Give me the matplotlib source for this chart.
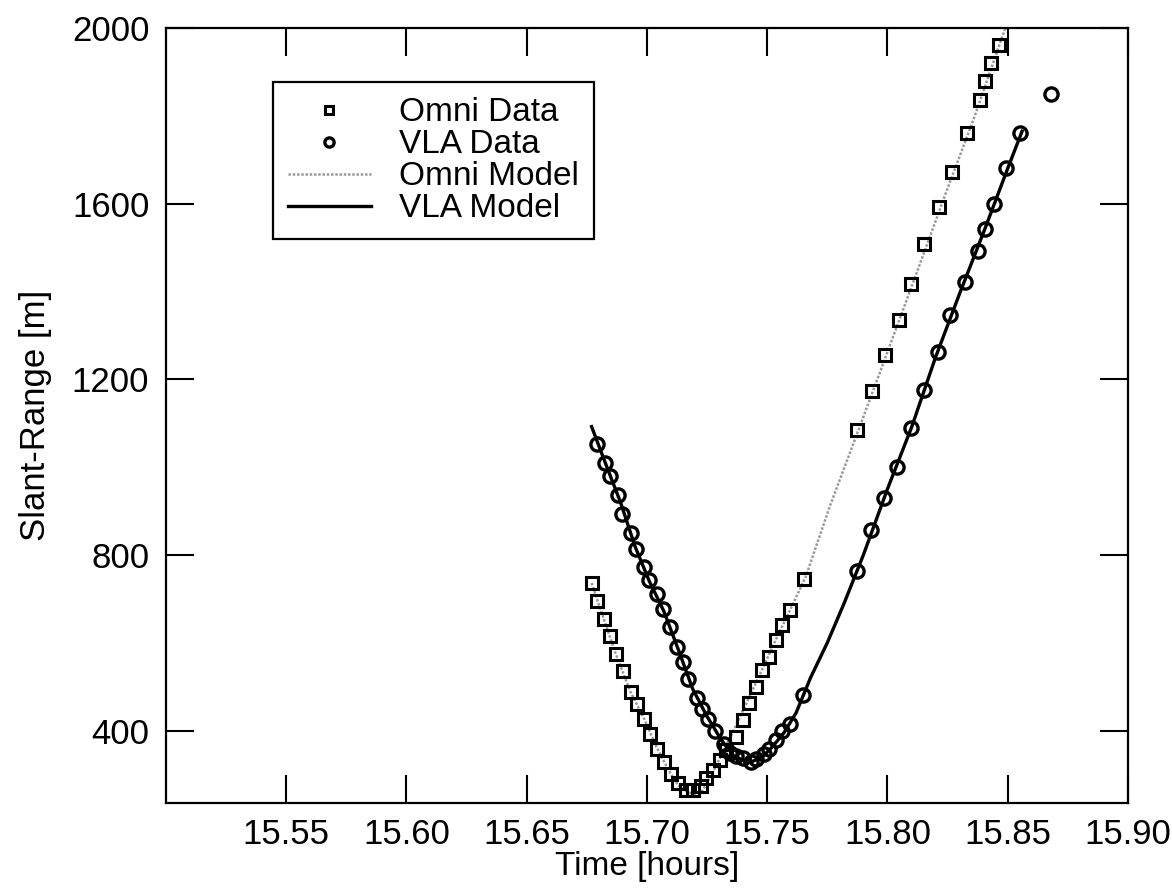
import matplotlib
matplotlib.use("Agg")
import matplotlib.pyplot as plt

# --- data (time in hours, slant range in m) ---
omni_t = [15.6771, 15.6793, 15.6821, 15.6846, 15.6870, 15.6899, 15.6932, 15.6957,
          15.6988, 15.7014, 15.7040, 15.7070, 15.7098, 15.7129, 15.7164, 15.7192,
          15.7224, 15.7247, 15.7275, 15.7302, 15.7330, 15.7371, 15.7398, 15.7425,
          15.7453, 15.7480, 15.7508, 15.7535, 15.7562, 15.7594, 15.7651,
          15.7875, 15.7934, 15.7988, 15.8046, 15.8100, 15.8154, 15.8216, 15.8270,
          15.8332, 15.8386, 15.8406, 15.8430, 15.8465]
omni_r = [736, 694, 653, 615, 574, 536, 487, 461,
          427, 393, 359, 329, 302, 280, 265, 265,
          273, 291, 311, 333, 356, 386, 424, 462,
          500, 538, 568, 606, 640, 674, 746,
          1084, 1174, 1256, 1335, 1417, 1508, 1593, 1673,
          1761, 1837, 1879, 1920, 1962]

vla_t = [15.6791, 15.6824, 15.6848, 15.6880, 15.6898, 15.6933, 15.6954, 15.6987,
         15.7008, 15.7042, 15.7068, 15.7096, 15.7124, 15.7149, 15.7172, 15.7210,
         15.7228, 15.7255, 15.7285, 15.7319, 15.7344, 15.7371, 15.7398, 15.7432,
         15.7455, 15.7485, 15.7506, 15.7535, 15.7562, 15.7593, 15.7650,
         15.7873, 15.7930, 15.7985, 15.8040, 15.8097, 15.8152, 15.8211, 15.8261,
         15.8322, 15.8378, 15.8407, 15.8445, 15.8495, 15.8550, 15.8680]
vla_r = [1053, 1010, 980, 937, 893, 851, 814, 772,
         742, 710, 676, 635, 591, 556, 518, 474,
         450, 426, 400, 369, 349, 341, 337, 328,
         336, 347, 357, 378, 398, 415, 482,
         763, 857, 929, 1001, 1088, 1175, 1262, 1346,
         1421, 1493, 1542, 1600, 1680, 1760, 1850]

omni_model_t = [15.6770, 15.6820, 15.6870, 15.6930, 15.6990, 15.7040, 15.7090, 15.7130,
                15.7170, 15.7200, 15.7230, 15.7270, 15.7310, 15.7360, 15.7420, 15.7480,
                15.7540, 15.7600, 15.7660, 15.7760, 15.7880, 15.8000, 15.8120, 15.8240,
                15.8360, 15.8490]
omni_model_r = [736, 655, 575, 490, 425, 362, 310, 275,
                259, 256, 262, 300, 345, 400, 470, 540,
                612, 680, 750, 910, 1085, 1262, 1440, 1620,
                1795, 2000]

vla_model_t = [15.6770, 15.6830, 15.6890, 15.6950, 15.7010, 15.7070, 15.7130, 15.7190,
               15.7250, 15.7310, 15.7360, 15.7400, 15.7440, 15.7480, 15.7520, 15.7570,
               15.7620, 15.7680, 15.7750, 15.7820, 15.7900, 15.8000, 15.8100, 15.8200,
               15.8300, 15.8400, 15.8500, 15.8560]
vla_model_r = [1092, 1005, 920, 820, 740, 672, 585, 495,
               432, 378, 343, 332, 330, 340, 362, 395,
               440, 520, 600, 690, 800, 950, 1090, 1250,
               1395, 1535, 1680, 1765]

x_ticks = [15.55, 15.60, 15.65, 15.70, 15.75, 15.80, 15.85, 15.90]
y_ticks = [400, 800, 1200, 1600, 2000]

plt.rcParams['font.family'] = ['Liberation Sans', 'DejaVu Sans']

fig = plt.figure(figsize=(11.72, 8.94), dpi=100)
ax = fig.add_axes([0.1416, 0.1018, 0.8208, 0.8669])

ax.plot(omni_model_t, omni_model_r, color='0.6', lw=1.8, dashes=(1.0, 0.7),
        label='Omni Model', zorder=2)
ax.plot(vla_model_t, vla_model_r, color='black', lw=2.4, label='VLA Model', zorder=2)
ax.plot(omni_t, omni_r, ls='none', marker='s', ms=8.5, mfc='none', mec='black',
        mew=2.2, label='Omni Data', zorder=3)
ax.plot(vla_t, vla_r, ls='none', marker='o', ms=9.5, mfc='none', mec='black',
        mew=2.4, label='VLA Data', zorder=3)

ax.set_xlim(15.50, 15.90)
ax.set_ylim(235, 2000)
ax.set_xticks(x_ticks)
ax.set_xticklabels(['%.2f' % v for v in x_ticks])
ax.set_yticks(y_ticks)
ax.tick_params(direction='in', length=20, width=1.5, labelsize=25,
               top=True, right=True)
ax.tick_params(axis='x', pad=11)
ax.tick_params(axis='y', pad=12)
for s in ax.spines.values():
    s.set_linewidth(1.6)

ax.set_xlabel('Time [hours]', fontsize=24, labelpad=0)
ax.set_ylabel('Slant-Range [m]', fontsize=25, labelpad=14)

h, l = ax.get_legend_handles_labels()
order = [2, 3, 0, 1]
leg = ax.legend([h[i] for i in order], [l[i] for i in order],
                loc='upper left', bbox_to_anchor=(0.111, 0.930), borderaxespad=0,
                fontsize=24, frameon=True, fancybox=False, framealpha=1,
                edgecolor='black', handlelength=2.5, handletextpad=0.85,
                labelspacing=0.03, borderpad=0.45, markerscale=0.7)
leg.get_frame().set_linewidth(1.6)

fig.savefig('out.png', dpi=100)
